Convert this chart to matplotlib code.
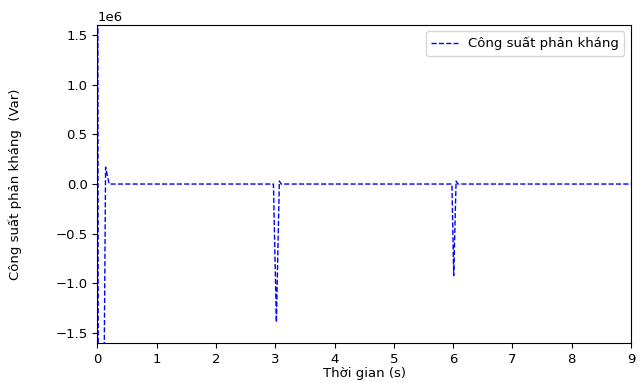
import matplotlib
matplotlib.use("Agg")
import matplotlib.pyplot as plt

# reactive power samples
t = [0, 0.005, 0.02, 0.09, 0.14, 0.2, 0.22, 2.97, 3.02, 3.07, 3.1,
     5.98, 6.01, 6.05, 6.08, 9.0]
q = [0, 4.0e6, -4.0e6, -4.0e6, 0.17e6, 0.0, 0.0, 0.0, -1.39e6, 0.03e6, 0.0,
     0.0, -0.92e6, 0.03e6, 0.0, 0.0]

plt.rcParams['font.size'] = 9.5
fig = plt.figure(figsize=(6.4, 3.83), dpi=100)
ax = fig.add_axes([0.152, 0.104, 0.834, 0.831])
ax.plot(t, q, 'b--', linewidth=1, label='Công suất phản kháng')
ax.set_xlim(0, 9)
ax.set_ylim(-1.6e6, 1.6e6)
ax.set_xlabel('Thời gian (s)', labelpad=1)
ax.set_ylabel('Công suất phản kháng  (Var)', labelpad=24)
ax.legend(loc='upper right')
fig.savefig('out.png', dpi=100)
